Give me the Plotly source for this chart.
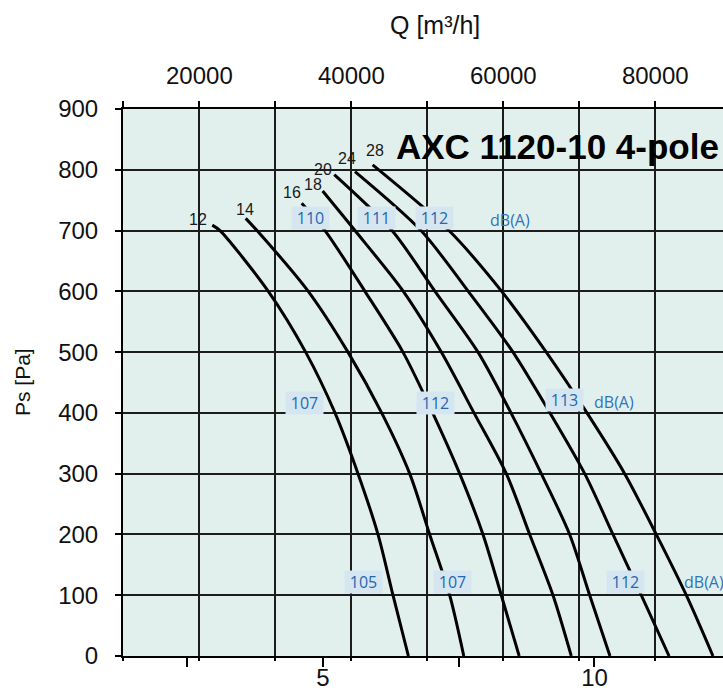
import plotly.graph_objects as go

# ---------------- data ----------------
ps_levels = [700, 600, 500, 400, 300, 200, 100, 0]

blade_angles = ["12", "14", "16", "18", "20", "24", "28"]
# start point of each curve (stall limit): (Q m3/s, Ps Pa)
start_q = [2.961, 3.576, 4.608, 4.994, 5.208, 5.589, 5.915]
start_ps = [709, 720, 745, 765, 792, 797, 808]

# Q [m3/s] of each curve at ps_levels
q_12 = [3.103, 3.993, 4.681, 5.221, 5.645, 6.013, 6.289, 6.573]
q_14 = [3.785, 4.729, 5.460, 6.081, 6.597, 6.965, 7.333, 7.593]
q_16 = [5.037, 5.773, 6.473, 7.020, 7.517, 7.947, 8.284, 8.613]
q_18 = [5.589, 6.479, 7.179, 7.781, 8.376, 8.807, 9.236, 9.573]
q_20 = [6.271, 7.063, 7.855, 8.462, 9.020, 9.543, 9.912, 10.285]
q_24 = [6.805, 7.676, 8.499, 9.180, 9.820, 10.341, 10.862, 11.374]
q_28 = [7.320, 8.291, 9.112, 9.862, 10.556, 11.138, 11.691, 12.182]
curves_q = [q_12, q_14, q_16, q_18, q_20, q_24, q_28]

# curve-number label positions
angle_label_q = [2.698, 3.564, 4.429, 4.816, 5.000, 5.442, 5.958]
angle_label_ps = [719, 735, 763, 775, 801, 818, 831]

# sound level labels dB(A)
db_text = ["110", "111", "112", "107", "112", "113", "105", "107", "112"]
db_q = [4.779, 5.989, 7.057, 4.656, 7.063, 9.451, 5.742, 7.389, 10.575]
db_ps = [720, 720, 720, 417, 417, 421, 122, 122, 122]
dba_unit_q = [8.035, 9.948, 11.606]
dba_unit_ps = [717, 418, 122]

# axes
y_ticks = [0, 100, 200, 300, 400, 500, 600, 700, 800, 900]
qh_grid = [10000, 20000, 30000, 40000, 50000, 60000, 70000, 80000]
qh_labels = ["", "20000", "", "40000", "", "60000", "", "80000"]
qs_ticks = [2.5, 5, 7.5, 10]
qs_labels = ["", "5", "", "10"]

x_range = [1.3168, 12.367]      # m3/s (bottom)
x2_range = [9945, 88910]        # m3/h (top, as printed)

title_text = "AXC 1120-10 4-pole"

# ---------------- figure ----------------
fig = go.Figure()

for q, sq, sp in zip(curves_q, start_q, start_ps):
    fig.add_trace(go.Scatter(
        x=[sq] + q, y=[sp] + ps_levels, mode="lines",
        line=dict(color="black", width=3, shape="spline", smoothing=0.8),
        hoverinfo="skip", showlegend=False, xaxis="x", yaxis="y"))

# dummy traces so the overlay axes are created
for ax in ["x2", "x3", "x4"]:
    fig.add_trace(go.Scatter(x=[], y=[], xaxis=ax, yaxis="y", showlegend=False))

FONT = "Liberation Sans, Arial, sans-serif"
grid_col = "#1c1c1c"
TICK_SIZE = 24

fig.update_layout(
    width=723, height=692,
    margin=dict(l=123, r=0, t=109, b=36),
    paper_bgcolor="white",
    plot_bgcolor="#e2f0ed",
    font=dict(family=FONT, color="#111111"),
    showlegend=False,
    # bottom axis (m3/s): tick marks only
    xaxis=dict(
        range=x_range, showgrid=False, zeroline=False, automargin=False,
        tickmode="array", tickvals=qs_ticks, showticklabels=False,
        ticks="outside", ticklen=9, tickwidth=1.5, tickcolor="black",
        showline=True, linecolor="black", linewidth=2,
    ),
    # bottom axis (m3/s): labels
    xaxis4=dict(
        overlaying="x", side="bottom", range=x_range, automargin=False,
        tickmode="array", tickvals=qs_ticks, ticktext=qs_labels,
        showgrid=False, zeroline=False, showline=False, ticks="",
        tickfont=dict(size=TICK_SIZE, family=FONT), ticklabelstandoff=5,
    ),
    # top axis (m3/h) with the vertical grid
    xaxis2=dict(
        overlaying="x", side="top", range=x2_range, automargin=False,
        tickmode="array", tickvals=qh_grid, ticktext=qh_labels,
        showgrid=True, gridcolor=grid_col, gridwidth=1.6, zeroline=False,
        ticks="outside", ticklen=6, tickwidth=1.5, tickcolor="black",
        showline=True, linecolor="black", linewidth=2,
        tickfont=dict(size=TICK_SIZE, family=FONT), ticklabelstandoff=7,
    ),
    # short grid stubs below the bottom line
    xaxis3=dict(
        overlaying="x", side="bottom", range=x2_range, automargin=False,
        tickmode="array", tickvals=qh_grid, ticktext=[""] * len(qh_grid),
        showgrid=False, zeroline=False, showline=False,
        ticks="outside", ticklen=4, tickwidth=1.5, tickcolor="black",
    ),
    yaxis=dict(
        range=[0, 900], tickmode="array", tickvals=y_ticks, automargin=False,
        showgrid=True, gridcolor=grid_col, gridwidth=1.6, zeroline=False,
        ticks="outside", ticklen=6, tickwidth=1.5, tickcolor="black",
        showline=True, linecolor="black", linewidth=2,
        tickfont=dict(size=TICK_SIZE, family=FONT), ticklabelstandoff=12,
    ),
)

ann = []
# axis titles
ann.append(dict(text="Q [m³/h]", xref="paper", yref="paper",
                x=(435 - 123) / 600, y=(656 - 25) / 547,
                xanchor="center", yanchor="middle",
                showarrow=False, font=dict(size=25, family=FONT)))
ann.append(dict(text="Ps [Pa]", xref="paper", yref="paper",
                x=(22 - 123) / 600, y=(656 - 382) / 547, textangle=-90,
                xanchor="center", yanchor="middle",
                showarrow=False, font=dict(size=21, family=FONT)))
# chart title
ann.append(dict(text="<b>" + title_text + "</b>", xref="paper", yref="paper",
                x=(721 - 123) / 600, y=(656 - 146) / 547,
                xanchor="right", yanchor="middle",
                showarrow=False, font=dict(size=35, family=FONT, color="black")))
# blade angle labels
for t, q, p in zip(blade_angles, angle_label_q, angle_label_ps):
    ann.append(dict(text=t, x=q, y=p, xref="x", yref="y", showarrow=False,
                    font=dict(size=16, family=FONT, color="#1a1a1a")))
# dB(A) level labels
for t, q, p in zip(db_text, db_q, db_ps):
    ann.append(dict(text=t, x=q, y=p, xref="x", yref="y", showarrow=False,
                    bgcolor="#d5e6f1", width=35, height=20, borderpad=1,
                    font=dict(size=16, family="Open Sans, sans-serif", color="#2468b0")))
for q, p in zip(dba_unit_q, dba_unit_ps):
    ann.append(dict(text="dB(A)", x=q, y=p, xref="x", yref="y", showarrow=False,
                    xanchor="left",
                    font=dict(size=16, family="Open Sans, sans-serif", color="#2f74bb")))
fig.update_layout(annotations=ann)

fig.write_html(
    "out.html",
    config={"displayModeBar": False},
    post_script="document.body.style.margin='0';document.body.style.padding='0';"
                "document.body.style.overflow='hidden';",
)
